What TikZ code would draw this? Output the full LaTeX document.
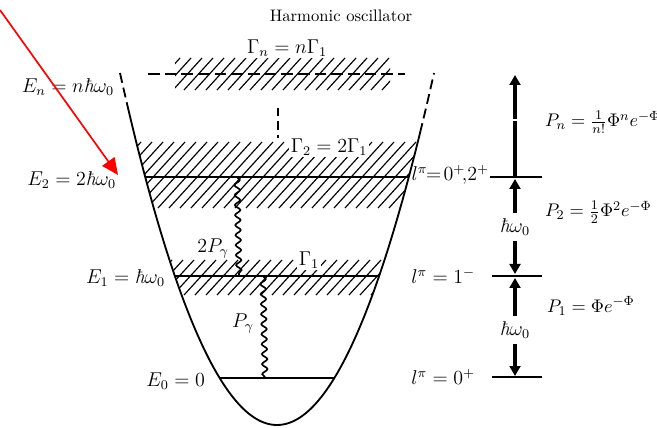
\documentclass[tikz,border=0pt]{standalone}
\usetikzlibrary{arrows.meta,decorations.pathmorphing}
\newcommand{\hb}{\mbox{\itshape ħ}}
\begin{document}
\begin{tikzpicture}[x=0.6pt,y=-0.6pt,font=\large]
\tikzset{
  levelline/.style={line width=1.4pt},
  rlevel/.style={line width=1.1pt},
  hatch/.style={line width=0.7pt},
  wall/.style={line width=1.1pt},
  photon/.style={decorate,decoration={snake,segment length=6pt,amplitude=1.6pt},line width=1pt},
  spin/.style={line width=2.2pt,-{Triangle[length=6pt,width=6.5pt]}},
  lbl/.style={inner sep=1pt},
  clr/.style={inner sep=1pt,fill=white},
  prob/.style={inner sep=1pt,anchor=west,font=\fontsize{11}{13}\selectfont},
}
\useasboundingbox (0,0) rectangle (657,428);

% title
\node[font=\normalsize] (title) at (341,16) {Harmonic oscillator};

% hatching inside the well
\begin{scope}
  \clip plot[domain=120:434,samples=120] (\x,{425-1.428*((\x-277)/10)^2}) -- cycle;
  \foreach \x in {70,81,...,420} \draw[hatch] (\x,208) -- ++(60,-66);
  \foreach \x in {140,151,...,400} \draw[hatch] (\x,295) -- ++(32,-35);
\end{scope}
\begin{scope}
  \clip (175,50) rectangle (390,95);
  \foreach \x in {140,151,...,400} \draw[hatch] (\x,90) -- ++(29,-32);
\end{scope}

% potential well
\draw[wall] plot[domain=128:420,samples=120] (\x,{425-1.428*((\x-277)/10)^2});
\draw[wall,dash pattern=on 6pt off 3pt] plot[domain=120:128,samples=10] (\x,{425-1.428*((\x-277)/10)^2});
\draw[wall,dash pattern=on 6pt off 3pt] plot[domain=420:434,samples=10] (\x,{425-1.428*((\x-277)/10)^2});

% levels
\coordinate (n0) at (148,74);  \coordinate (n1) at (405,74);
\coordinate (a0) at (145,177); \coordinate (a1) at (409,177);
\coordinate (b0) at (175,276); \coordinate (b1) at (379,276);
\coordinate (c0) at (220,378); \coordinate (c1) at (334,378);
\draw[levelline,dash pattern=on 7pt off 3pt] (n0) -- (n1);
\draw[levelline] (a0) -- (a1);
\draw[levelline] (b0) -- (b1);
\draw[levelline] (c0) -- (c1);
\coordinate (v0) at (278,108); \coordinate (v1) at (278,138);
\draw[line width=1pt,dash pattern=on 5pt off 3pt] (v0) -- (v1);

% widths
\node[clr] (gn) at (287,48) {$\Gamma_n = n\Gamma_1$};
\node[clr] (g2) at (329,147) {$\Gamma_2 = 2\Gamma_1$};
\node[clr] (g1) at (309,260) {$\Gamma_1$};

% gamma transitions
\coordinate (w1) at (237,177); \coordinate (w2) at (239,276);
\coordinate (w3) at (263,276); \coordinate (w4) at (265,378);
\draw[photon] (w1) -- (w2);
\draw[photon] (w3) -- (w4);
\node[lbl] (p2g) at (213,248) {$2P_\gamma$};
\node[lbl] (p1g) at (243,323) {$P_\gamma$};

% left energy labels
\node[lbl,anchor=east] (En) at (116,87) {$E_n = n\hb\omega_0$};
\node[lbl,anchor=east] (E2) at (118,180) {$E_2 = 2\hb\omega_0$};
\node[lbl,anchor=east] (E1) at (167,278) {$E_1 = \hb\omega_0$};
\node[lbl,anchor=east] (E0) at (207,381) {$E_0 = 0$};

% right-hand scheme
\coordinate (r2a) at (490,177); \coordinate (r2b) at (542,177);
\coordinate (r1a) at (492,276); \coordinate (r1b) at (542,276);
\coordinate (r0a) at (492,377); \coordinate (r0b) at (542,377);
\draw[rlevel] (r2a) -- (r2b);
\draw[rlevel] (r1a) -- (r1b);
\draw[rlevel] (r0a) -- (r0b);
\node[lbl,anchor=east] (s2) at (491,175) {$l^{\pi}\!\!=\!0^+\!,\!2^+$};
\node[lbl,anchor=east] (s1) at (477,276) {$l^{\pi} = 1^-$};
\node[lbl,anchor=east] (s0) at (477,377) {$l^{\pi} = 0^+$};

\node[inner sep=3pt] (hw2) at (515,227) {$\hb\omega_0$};
\node[inner sep=3pt] (hw1) at (515,330) {$\hb\omega_0$};
\coordinate (t0) at (515,177); \coordinate (tg) at (515,121);
\coordinate (tg2) at (515,119); \coordinate (top) at (515,75);
\draw[line width=2.2pt] (t0) -- (tg);
\draw[spin] (tg2) -- (top);
\draw[spin] (hw2.north) -- (515,179);
\draw[spin] (hw2.south) -- (515,274);
\draw[spin] (hw1.north) -- (515,278);
\draw[spin] (hw1.south) -- (515,376);

\node[prob] (Pn) at (543,122) {$P_n = \frac{1}{n!}\Phi^n e^{-\Phi}$};
\node[prob] (P2) at (543,212) {$P_2 = \frac{1}{2}\Phi^2 e^{-\Phi}$};
\node[prob] (P1) at (545,306) {$P_1 = \Phi e^{-\Phi}$};

% red pointer
\coordinate (rs) at (0,10); \coordinate (re) at (118,175);
\draw[red,line width=1pt,-{Triangle[length=10pt,width=9pt]}] (rs) -- (re);
\end{tikzpicture}
\end{document}
